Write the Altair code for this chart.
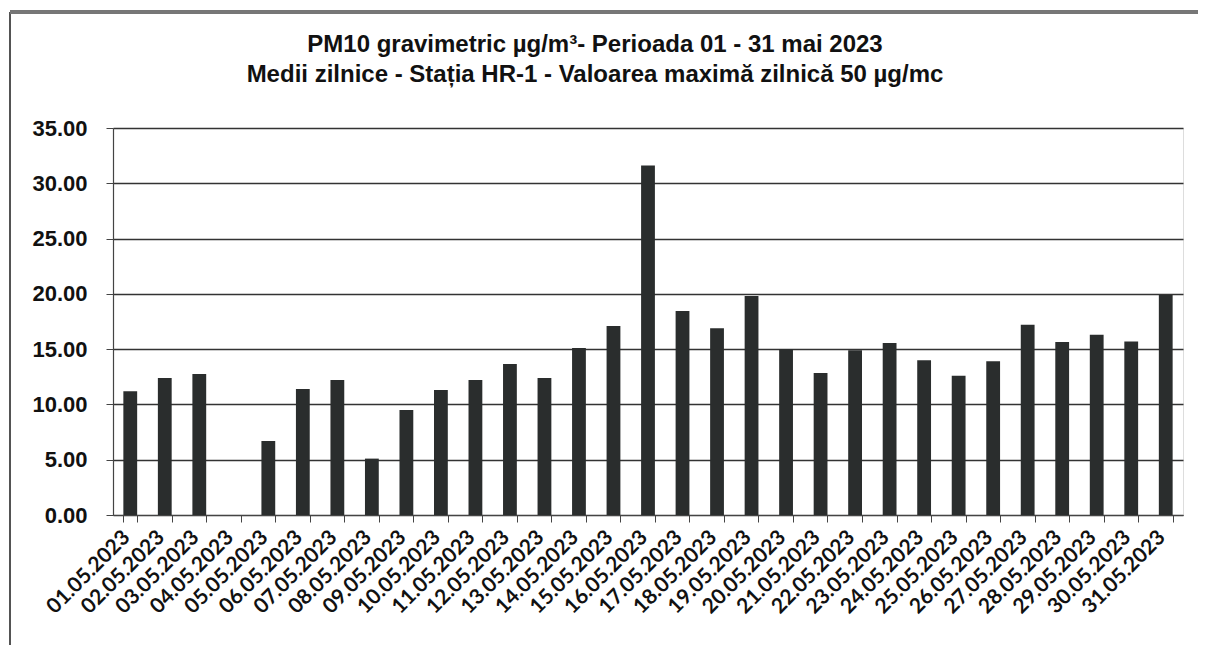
import altair as alt
import pandas as pd

dates = [f"{d:02d}.05.2023" for d in range(1, 32)]
values = [11.2, 12.4, 12.75, None, 6.7, 11.4, 12.2, 5.1, 9.5, 11.3,
          12.2, 13.65, 12.4, 15.1, 17.1, 31.6, 18.45, 16.9, 19.8, 15.0,
          12.85, 14.9, 15.55, 14.0, 12.6, 13.9, 17.2, 15.65, 16.3, 15.7, 19.9]
y_ticks = [0, 5, 10, 15, 20, 25, 30, 35]
title_lines = ["PM10 gravimetric µg/m³- Perioada 01 - 31 mai 2023",
               "Medii zilnice - Stația HR-1 -  Valoarea maximă zilnică 50 µg/mc"]

df = pd.DataFrame({"date": dates, "value": values})

W, H = 1070, 387

bars = alt.Chart(df).mark_bar(color="#2a2d2d").encode(
    x=alt.X("date:N", sort=dates, title=None,
            scale=alt.Scale(paddingInner=0.6, paddingOuter=0.3),
            axis=alt.Axis(labelAngle=-45, labelAlign="right", labelBaseline="middle",
                          labelFont="Lato", labelFontWeight="bold", labelFontSize=21,
                          labelColor="#111", labelPadding=12, labelOffset=-4,
                          tickBand="extent",
                          tickSize=7, tickColor="#444", domainColor="#444",
                          domainWidth=1.2, grid=False, labelOverlap=False)),
    y=alt.Y("value:Q", title=None,
            scale=alt.Scale(domain=[0, 35], nice=False),
            axis=alt.Axis(values=y_ticks, format=".2f", labelFont="Liberation Sans",
                          labelFontWeight="bold", labelFontSize=22, labelColor="#111",
                          labelPadding=19, tickSize=7, tickColor="#444",
                          domainColor="#444", domainWidth=1.2,
                          gridColor="#333", gridWidth=1.4, gridOpacity=1)),
)

tdf = pd.DataFrame({"t": title_lines})
title1 = alt.Chart(tdf.iloc[[0]]).mark_text(
    font="Liberation Sans", fontWeight="bold", fontSize=24, color="#111",
    align="center", baseline="middle").encode(
    text="t:N", x=alt.value(482), y=alt.value(-83))
title2 = alt.Chart(tdf.iloc[[1]]).mark_text(
    font="Liberation Sans", fontWeight="bold", fontSize=24, color="#111",
    align="center", baseline="middle").encode(
    text="t:N", x=alt.value(482), y=alt.value(-53))

frame_left = alt.Chart(df).mark_rule(color="#555", strokeWidth=1.5).encode(
    x=alt.value(-103), y=alt.value(-116), y2=alt.value(H + 140))
frame_top = alt.Chart(df).mark_rule(color="#777", strokeWidth=3).encode(
    x=alt.value(-103), x2=alt.value(W + 100), y=alt.value(-116))

chart = alt.layer(bars, title1, title2, frame_left, frame_top).properties(
    width=W, height=H,
    autosize=alt.AutoSizeParams(type="none"),
    padding={"left": 105, "top": 120, "right": 15, "bottom": 130},
).configure_view(stroke=None).configure(background="white")

chart.save("out.html", embed_options={"renderer": "svg", "actions": False})
